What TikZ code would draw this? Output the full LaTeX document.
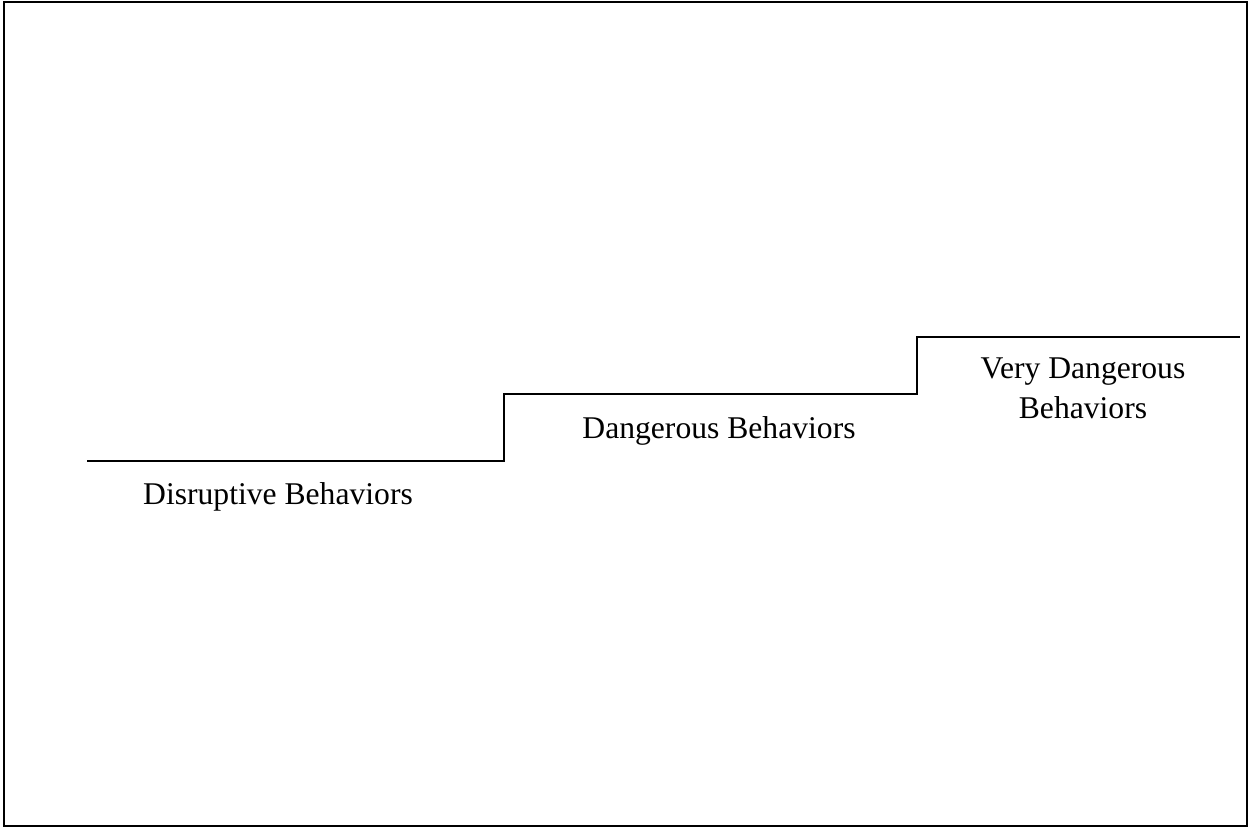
\documentclass[tikz,border=0pt]{standalone}
\usepackage{fontspec}
\setmainfont{Liberation Serif}
\usetikzlibrary{positioning}

\begin{document}
\begin{tikzpicture}[x=0.02cm, y=-0.02cm,
                label/.style={inner sep=0pt, font=\fontsize{18}{22.8}\selectfont},
                frame/.style={draw, line width=1.1pt},
                stair/.style={draw, line width=0.8pt}]

                % Page
                \useasboundingbox (0,0) rectangle (1250,829);
                \draw[frame] (4,2) rectangle (1247,826);

                % Step corners
                \coordinate (s0) at (87,461);
                \coordinate (s1) at (504,461);
                \coordinate (s2) at (504,394);
                \coordinate (s3) at (917,394);
                \coordinate (s4) at (917,337);
                \coordinate (s5) at (1240,337);
                \draw[stair] (s0) -- (s1) -- (s2) -- (s3) -- (s4) -- (s5);

                % Labels
                \node[label, anchor=base] (disruptive) at (278,504) {Disruptive Behaviors};
                \node[label, anchor=base] (dangerous) at (719,438) {Dangerous Behaviors};
                \node[label, anchor=north, align=center] (verydangerous) at (1083,357) {Very Dangerous\\Behaviors};

\end{tikzpicture}
\end{document}
